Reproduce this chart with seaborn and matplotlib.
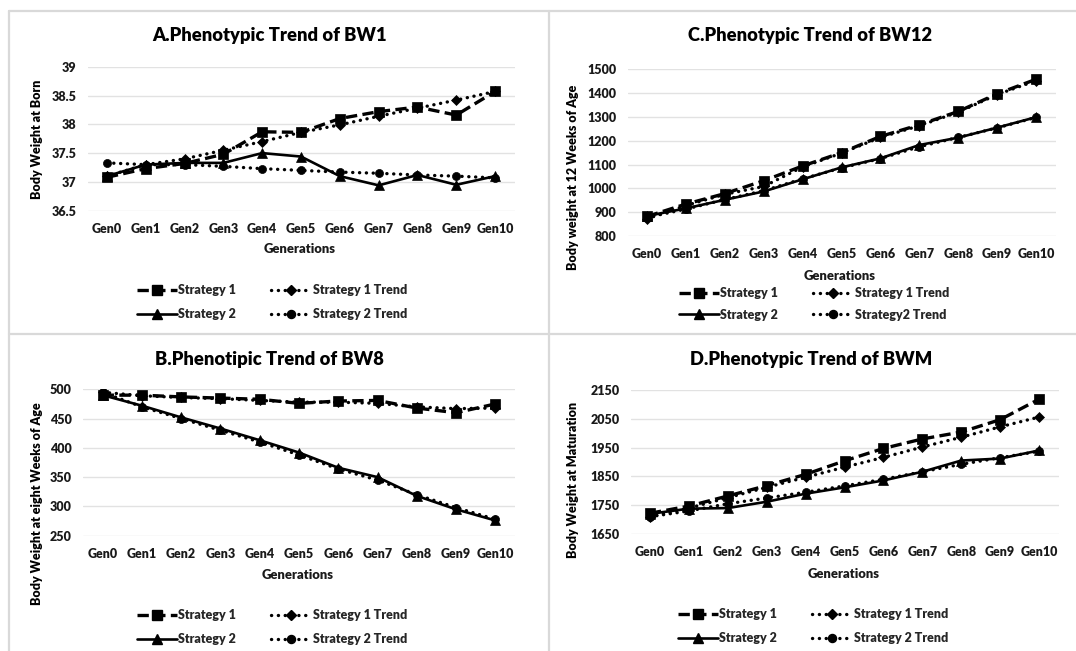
import matplotlib
matplotlib.use("Agg")
import matplotlib.pyplot as plt
from matplotlib.lines import Line2D
from matplotlib.ticker import FuncFormatter
import numpy as np
import pandas as pd
import seaborn as sns

# ---- data ----
generations = ["Gen0", "Gen1", "Gen2", "Gen3", "Gen4", "Gen5",
               "Gen6", "Gen7", "Gen8", "Gen9", "Gen10"]

bw1_s1 = [37.08, 37.23, 37.32, 37.48, 37.87, 37.86, 38.10, 38.22, 38.30, 38.16, 38.57]
bw1_s1_trend = [37.10, 37.30, 37.40, 37.55, 37.70, 37.86, 37.99, 38.14, 38.28, 38.42, 38.57]
bw1_s2 = [37.10, 37.30, 37.33, 37.33, 37.50, 37.44, 37.10, 36.94, 37.12, 36.95, 37.10]
bw1_s2_trend = [37.33, 37.30, 37.30, 37.27, 37.23, 37.20, 37.17, 37.15, 37.12, 37.10, 37.07]

bw12_s1 = [882, 934, 978, 1032, 1094, 1150, 1218, 1267, 1323, 1397, 1458]
bw12_s1_trend = [872, 928, 975, 1008, 1090, 1148, 1214, 1263, 1320, 1394, 1452]
bw12_s2 = [884, 916, 952, 987, 1038, 1088, 1126, 1182, 1213, 1255, 1299]
bw12_s2_trend = [878, 913, 953, 990, 1040, 1086, 1125, 1175, 1214, 1254, 1298]

bw8_s1 = [490, 490, 487, 485, 483, 476, 480, 481, 468, 460, 475]
bw8_s1_trend = [495, 489, 486, 484, 481, 478, 478, 476, 470, 467, 468]
bw8_s2 = [490, 472, 452, 433, 413, 392, 366, 350, 318, 295, 276]
bw8_s2_trend = [495, 470, 450, 430, 410, 388, 364, 345, 320, 298, 278]

bwm_s1 = [1722, 1747, 1782, 1818, 1857, 1904, 1947, 1980, 2004, 2047, 2118]
bwm_s1_trend = [1710, 1740, 1776, 1812, 1847, 1882, 1916, 1952, 1986, 2022, 2056]
bwm_s2 = [1720, 1738, 1740, 1762, 1790, 1812, 1836, 1866, 1905, 1912, 1940]
bwm_s2_trend = [1710, 1730, 1755, 1775, 1795, 1817, 1840, 1866, 1892, 1915, 1937]

W, H = 1076, 651
sns.set_theme(style="white")
plt.rcParams["font.family"] = ["Lato", "DejaVu Sans"]
plt.rcParams["font.weight"] = "heavy"

fig = plt.figure(figsize=(W / 100, H / 100), dpi=100)
fig.patch.set_facecolor("white")


def fx(px):
    return px / W


def fy(py):
    return 1 - py / H


GRID = "#e2e2e2"
BORDER = "#d9d9d9"
FS = 9.0
WT = "heavy"
DOTS = (0, (0.05, 2.0))

styles = {
    "s1": dict(marker="s", markersize=7.4, linestyle=(0, (3.4, 1.6)), linewidth=2.4, cap="butt"),
    "s1t": dict(marker="D", markersize=5.0, linestyle=DOTS, linewidth=2.4, cap="round"),
    "s2": dict(marker="^", markersize=7.4, linestyle="-", linewidth=1.9, cap="butt"),
    "s2t": dict(marker="o", markersize=5.8, linestyle=DOTS, linewidth=2.4, cap="round"),
}

panels = [
    dict(title="A.Phenotypic Trend of BW1", ylabel="Body Weight at Born",
         series=[bw1_s1, bw1_s1_trend, bw1_s2, bw1_s2_trend],
         labels=["Strategy 1", "Strategy 1 Trend", "Strategy 2", "Strategy 2 Trend"],
         ylim=(36.5, 39), step=0.5,
         box=(87.5, 514.5, 66.7, 210.7), title_xy=(270, 35), ylab_xy=(37, 139),
         xlab_xy=(300, 249), leg_xy=(272, 302), leg_space=0.95),
    dict(title="C.Phenotypic Trend of BW12", ylabel="Body weight at 12 Weeks of Age",
         series=[bw12_s1, bw12_s1_trend, bw12_s2, bw12_s2_trend],
         labels=["Strategy 1", "Strategy 1 Trend", "Strategy 2", "Strategy2 Trend"],
         ylim=(800, 1500), step=100,
         box=(627.5, 1055.5, 69.3, 236.0), title_xy=(810, 35), ylab_xy=(573, 177),
         xlab_xy=(840, 276), leg_xy=(814, 304), leg_space=0.75),
    dict(title="B.Phenotipic Trend of BW8", ylabel="Body Weight at eight Weeks of Age",
         series=[bw8_s1, bw8_s1_trend, bw8_s2, bw8_s2_trend],
         labels=["Strategy 1", "Strategy 1 Trend", "Strategy 2", "Strategy 2 Trend"],
         ylim=(250, 500), step=50,
         box=(83.0, 515.0, 389.3, 535.7), title_xy=(269, 359), ylab_xy=(37, 504),
         xlab_xy=(298, 575), leg_xy=(272, 627), leg_space=0.95),
    dict(title="D.Phenotypic Trend of BWM", ylabel="Body Weight at Maturation",
         series=[bwm_s1, bwm_s1_trend, bwm_s2, bwm_s2_trend],
         labels=["Strategy 1", "Strategy 1 Trend", "Strategy 2", "Strategy 2 Trend"],
         ylim=(1650, 2150), step=100,
         box=(630.5, 1058.5, 390.0, 534.0), title_xy=(811, 359), ylab_xy=(573, 480),
         xlab_xy=(844, 574), leg_xy=(813, 626), leg_space=0.95),
]

keys = ["s1", "s1t", "s2", "s2t"]
xpos = np.arange(len(generations))

for p in panels:
    l, r, t, b = p["box"]
    ax = fig.add_axes([fx(l), fy(b), (r - l) / W, (b - t) / H])
    ax.set_facecolor("white")

    handles = {}
    for key, vals, lab in zip(keys, p["series"], p["labels"]):
        df = pd.DataFrame({"gen": xpos, "value": vals})
        st = styles[key]
        sns.lineplot(data=df, x="gen", y="value", ax=ax, color="black",
                     marker=st["marker"], markersize=st["markersize"],
                     markeredgecolor="black", markerfacecolor="black",
                     markeredgewidth=0.5, linestyle=st["linestyle"],
                     linewidth=st["linewidth"], dash_capstyle=st["cap"],
                     label=lab, zorder=3, legend=False)
        handles[key] = Line2D([], [], color="black", marker=st["marker"],
                              markersize=st["markersize"], linestyle=st["linestyle"],
                              linewidth=st["linewidth"], dash_capstyle=st["cap"],
                              markeredgecolor="black")

    lo, hi = p["ylim"]
    ax.set_ylim(lo, hi)
    ax.set_xlim(-0.5, len(generations) - 0.5)
    ax.set_yticks(np.arange(lo, hi + p["step"] / 2, p["step"]))
    ax.yaxis.set_major_formatter(FuncFormatter(lambda v, _: f"{v:g}"))
    ax.set_xticks(xpos)
    ax.set_xticklabels(generations)
    ax.grid(axis="y", color=GRID, linewidth=1.0)
    ax.grid(axis="x", visible=False)
    for s in ax.spines.values():
        s.set_visible(False)
    ax.tick_params(axis="both", length=0, labelsize=FS, colors="#1a1a1a")
    ax.tick_params(axis="x", pad=8.5)
    ax.tick_params(axis="y", pad=8)
    for lbl in ax.get_xticklabels() + ax.get_yticklabels():
        lbl.set_fontweight(WT)
    ax.set_xlabel("")
    ax.set_ylabel("")

    fig.text(fx(p["title_xy"][0]), fy(p["title_xy"][1]), p["title"],
             ha="center", va="center", fontsize=13.2, fontweight=WT, color="black")
    fig.text(fx(p["ylab_xy"][0]), fy(p["ylab_xy"][1]), p["ylabel"], rotation=90,
             ha="center", va="center", fontsize=FS, fontweight=WT, color="black")
    fig.text(fx(p["xlab_xy"][0]), fy(p["xlab_xy"][1]), "Generations",
             ha="center", va="center", fontsize=FS + 0.4, fontweight=WT, color="#1a1a1a")

    order = ["s1", "s2", "s1t", "s2t"]
    lab_map = dict(zip(keys, p["labels"]))
    ax.legend([handles[k] for k in order], [lab_map[k] for k in order],
              ncol=2, loc="center", bbox_to_anchor=(fx(p["leg_xy"][0]), fy(p["leg_xy"][1])),
              bbox_transform=fig.transFigure, frameon=False,
              handlelength=3.2, handletextpad=0.15, columnspacing=2.8,
              labelspacing=p["leg_space"], borderpad=0,
              prop=dict(weight=WT, size=FS))

# panel separators
for (x0, y0, x1, y1) in [(8.5, 10.5, W, 10.5), (8.5, 333.5, W, 333.5),
                         (8.5, 10.5, 8.5, H), (548.5, 10.5, 548.5, H)]:
    fig.add_artist(Line2D([fx(x0), fx(x1)], [fy(y0), fy(y1)], color=BORDER,
                          linewidth=1.6, transform=fig.transFigure))

fig.savefig("out.png", dpi=100, facecolor="white")
